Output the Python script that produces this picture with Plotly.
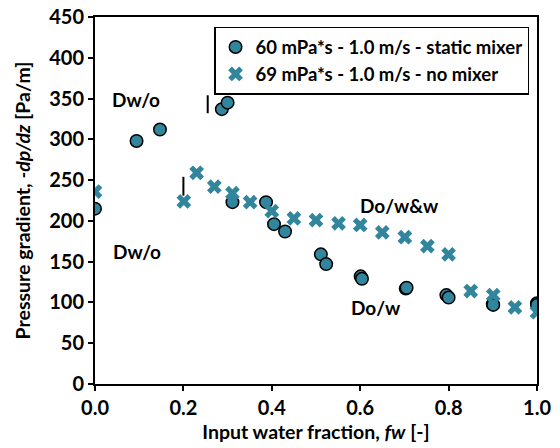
import plotly.graph_objects as go

# Data
mixer_fw = [0.0, 0.094, 0.147, 0.287, 0.300, 0.311, 0.387, 0.405, 0.43, 0.511, 0.523,
            0.601, 0.604, 0.703, 0.705, 0.795, 0.80, 0.90, 0.901, 1.0, 1.0]
mixer_dp = [215, 298, 312, 337, 345, 223, 223, 196, 187, 159, 147,
            132, 129, 117, 118, 109, 106, 98, 97, 99, 97]

nomix_fw = [0.0, 0.201, 0.230, 0.270, 0.311, 0.351, 0.400, 0.450, 0.500, 0.551,
            0.600, 0.650, 0.701, 0.752, 0.800, 0.850, 0.901, 0.950, 1.0]
nomix_dp = [236, 224, 259, 242, 234, 223, 212, 203, 201, 197,
            195, 186, 180, 169, 159, 114, 109, 94, 88]

series_names = ["60 mPa*s - 1.0 m/s - static mixer", "69 mPa*s - 1.0 m/s - no mixer"]

region_labels = ["Dw/o", "Dw/o", "Do/w&w", "Do/w"]
region_x = [0.093, 0.095, 0.69, 0.636]
region_y = [349, 162, 219, 94]

bar_x = [0.255, 0.200]
bar_y0 = [332, 231]
bar_y1 = [354, 254]

x_ticks = [0.0, 0.2, 0.4, 0.6, 0.8, 1.0]
y_ticks = [0, 50, 100, 150, 200, 250, 300, 350, 400, 450]

teal = "#31859C"
FONT = "Lato"

fig = go.Figure()
fig.add_trace(go.Scatter(
    x=mixer_fw, y=mixer_dp, mode="markers", name=series_names[0],
    marker=dict(symbol="circle", size=12.5, color=teal, line=dict(color="black", width=1.5)),
))
fig.add_trace(go.Scatter(
    x=nomix_fw, y=nomix_dp, mode="markers", name=series_names[1],
    marker=dict(symbol="x", size=13, color=teal, line=dict(width=0)),
))

for t, xx, yy in zip(region_labels, region_x, region_y):
    fig.add_annotation(x=xx, y=yy, text=t, showarrow=False, xref="x", yref="y",
                       font=dict(family=FONT, size=19, color="black", weight="bold"))

for bx, b0, b1 in zip(bar_x, bar_y0, bar_y1):
    fig.add_shape(type="line", xref="x", yref="y", x0=bx, x1=bx, y0=b0, y1=b1,
                  line=dict(color="black", width=2))

axis_common = dict(showgrid=False, zeroline=False, showline=True, linecolor="black",
                   linewidth=2, mirror=True, ticks="outside", ticklen=5, tickwidth=2,
                   tickcolor="black",
                   tickfont=dict(family=FONT, size=20, color="black", weight="bold"))

fig.update_xaxes(range=[0, 1.0], tickvals=x_ticks, tickformat=".1f",
                 title=dict(text="Input water fraction, <i>fw</i> [-]", standoff=7,
                            font=dict(family=FONT, size=19.5, color="black", weight="bold")),
                 **axis_common)
fig.update_yaxes(range=[0, 450], tickvals=y_ticks,
                 title=dict(text="Pressure gradient, <i>-dp/dz</i> [Pa/m]", standoff=13,
                            font=dict(family=FONT, size=19.5, color="black", weight="bold")),
                 **axis_common)

fig.update_layout(
    width=560, height=448,
    margin=dict(l=95, r=23, t=17, b=64, autoexpand=False),
    plot_bgcolor="white", paper_bgcolor="white",
    legend=dict(x=0.982, y=0.973, xanchor="right", yanchor="top",
                bgcolor="white", bordercolor="black", borderwidth=1.5,
                font=dict(family=FONT, size=18.5, color="black", weight="bold"),
                tracegroupgap=0, itemwidth=30),
    showlegend=True,
)

fig.write_html("out.html")
